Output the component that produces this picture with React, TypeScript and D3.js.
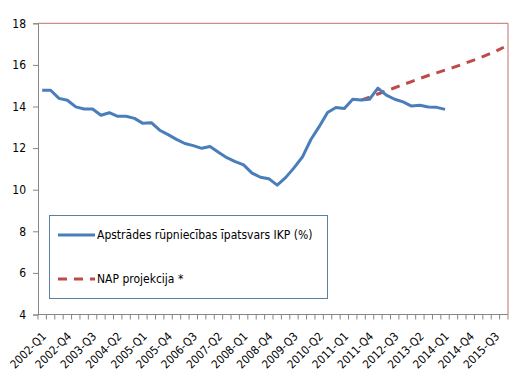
import { useEffect, useRef } from 'react';
import * as d3 from 'd3';

const years = d3.range(2002, 2016);
const quarters = ['Q1', 'Q2', 'Q3', 'Q4'];
const categories = years.flatMap((yr) => quarters.map((q) => `${yr}-${q}`));

// Apstrādes rūpniecības īpatsvars IKP (%), 2002-Q1 .. 2014-Q1
const shareValues = [
  14.78, 14.78, 14.39, 14.3, 13.98, 13.88, 13.88, 13.58, 13.7, 13.53, 13.53, 13.43,
  13.19, 13.22, 12.86, 12.65, 12.42, 12.22, 12.12, 11.99, 12.08, 11.8, 11.54, 11.35,
  11.19, 10.8, 10.6, 10.53, 10.22, 10.58, 11.05, 11.57, 12.4, 13.03, 13.71, 13.95,
  13.9, 14.35, 14.31, 14.35, 14.88, 14.55, 14.35, 14.22, 14.02, 14.06, 13.98, 13.96,
  13.86,
];

// NAP projekcija, 2011-Q3 .. 2015-Q4
const projectionStart = '2011-Q3';
const projectionValues = [
  14.31, 14.45, 14.6, 14.75, 14.9, 15.05, 15.2, 15.35, 15.49, 15.62, 15.75, 15.88,
  16.02, 16.17, 16.32, 16.48, 16.65, 16.85,
];

const yTicks = [4, 6, 8, 10, 12, 14, 16, 18];
const labelEvery = 3;

const seriesNames = ['Apstrādes rūpniecības īpatsvars IKP (%)', 'NAP projekcija *'];

const blue = '#4a7ebb';
const red = '#be4b48';
const axisGray = '#868686';
const font = '"DejaVu Sans Condensed", "DejaVu Sans", sans-serif';

const App = () => {
  const ref = useRef<SVGSVGElement | null>(null);

  useEffect(() => {
    if (!ref.current) return;
    const svg = d3.select(ref.current);
    svg.selectAll('*').remove();

    const left = 38;
    const right = 508;
    const top = 23.3;
    const bottom = 314.5;

    const x = d3.scaleBand().domain(categories).range([left, right]).padding(0);
    const y = d3.scaleLinear().domain([4, 18]).range([bottom, top]);
    const cx = (c: string) => (x(c) ?? 0) + x.bandwidth() / 2;

    // plot area border (top + right)
    svg
      .append('path')
      .attr('d', `M${left},${top}H${right}V${bottom}`)
      .attr('fill', 'none')
      .attr('stroke', '#c0706c')
      .attr('stroke-width', 1);

    // y axis
    const yAxis = svg
      .append('g')
      .attr('transform', `translate(${left},0)`)
      .call(d3.axisLeft(y).tickValues(yTicks).tickSize(5).tickPadding(7));
    yAxis.select('.domain').attr('stroke', axisGray);
    yAxis.selectAll('.tick line').attr('stroke', axisGray);
    yAxis
      .selectAll('.tick text')
      .attr('fill', '#000')
      .attr('font-family', font)
      .attr('font-size', 12);

    // x axis: ticks between categories
    const xa = svg.append('g');
    xa.append('line')
      .attr('x1', left)
      .attr('x2', right)
      .attr('y1', bottom)
      .attr('y2', bottom)
      .attr('stroke', axisGray);
    const boundaries = [...categories.map((c) => x(c) ?? 0), right];
    xa.selectAll('line.tk')
      .data(boundaries)
      .enter()
      .append('line')
      .attr('class', 'tk')
      .attr('x1', (d) => d)
      .attr('x2', (d) => d)
      .attr('y1', bottom)
      .attr('y2', bottom + 5)
      .attr('stroke', axisGray);
    xa.selectAll('text')
      .data(categories.filter((_, i) => i % labelEvery === 0))
      .enter()
      .append('text')
      .attr('transform', (c) => `translate(${cx(c) - 1},${bottom + 17}) rotate(-45)`)
      .attr('text-anchor', 'end')
      .attr('dy', '0.7em')
      .attr('font-family', font)
      .attr('font-size', 11.5)
      .attr('fill', '#000')
      .text((c) => c);

    const line = d3
      .line<[string, number]>()
      .x((d) => cx(d[0]))
      .y((d) => y(d[1]));

    const shareData: [string, number][] = shareValues.map((v, i) => [categories[i], v]);
    const startIdx = categories.indexOf(projectionStart);
    const projData: [string, number][] = projectionValues.map((v, i) => [
      categories[startIdx + i],
      v,
    ]);

    svg
      .append('path')
      .datum(projData)
      .attr('d', line)
      .attr('fill', 'none')
      .attr('stroke', red)
      .attr('stroke-width', 3)
      .attr('stroke-dasharray', '9,7');

    svg
      .append('path')
      .datum(shareData)
      .attr('d', line)
      .attr('fill', 'none')
      .attr('stroke', blue)
      .attr('stroke-width', 3)
      .attr('stroke-linejoin', 'round');

    // legend
    const lg = svg.append('g');
    lg.append('rect')
      .attr('x', 49.5)
      .attr('y', 215.5)
      .attr('width', 278)
      .attr('height', 83)
      .attr('fill', '#fff')
      .attr('stroke', '#5b7f9f')
      .attr('stroke-width', 1);
    const items = [
      { name: seriesNames[0], color: blue, dash: null, ly: 235 },
      { name: seriesNames[1], color: red, dash: '9,7', ly: 279 },
    ];
    items.forEach((it) => {
      lg.append('line')
        .attr('x1', 58)
        .attr('x2', 95)
        .attr('y1', it.ly)
        .attr('y2', it.ly)
        .attr('stroke', it.color)
        .attr('stroke-width', 3)
        .attr('stroke-dasharray', it.dash);
      lg.append('text')
        .attr('x', 97)
        .attr('y', it.ly)
        .attr('dy', '0.35em')
        .attr('font-family', font)
        .attr('font-size', 12)
        .attr('fill', '#000')
        .text(it.name);
    });
  }, []);

  return (
    <div style={{ position: 'absolute', left: 0, top: 0 }}>
      <svg ref={ref} width={528} height={372} role="img" aria-label="Manufacturing share of GDP" />
    </div>
  );
};

export default App;
